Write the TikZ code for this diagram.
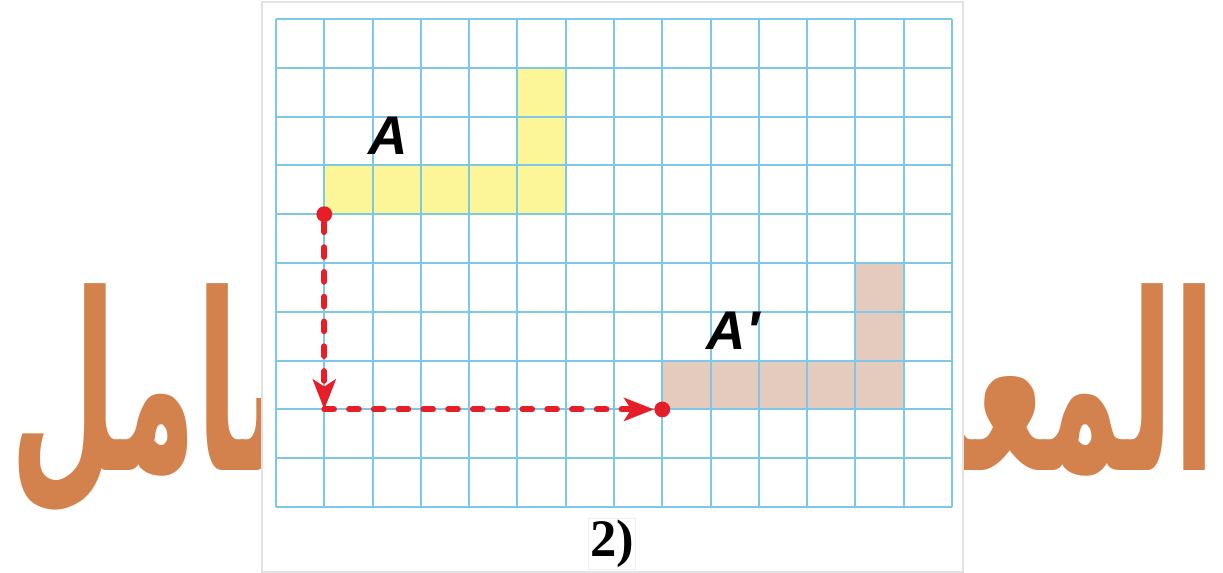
\documentclass[tikz,border=0pt]{standalone}
\usepackage{fontspec}
\usetikzlibrary{arrows.meta}
\TeXXeTstate=1
\newfontfamily\arabicfont[Script=Arabic]{DejaVu Sans}
\newfontfamily\labfont{Liberation Sans}
\newfontfamily\numfont{Liberation Serif}
\definecolor{gridblue}{RGB}{125,200,228}
\definecolor{shapeyellow}{RGB}{253,246,152}
\definecolor{shapebrown}{RGB}{229,203,189}
\definecolor{arrowred}{RGB}{230,30,40}
\definecolor{wmorange}{RGB}{212,130,77}
\definecolor{panelgray}{RGB}{226,226,230}
\begin{document}
\begin{tikzpicture}[x=0.02cm,y=-0.02cm,
  gridline/.style={draw=gridblue,line width=1.1pt},
  cellA/.style={fill=shapeyellow},
  cellB/.style={fill=shapebrown},
  dot/.style={circle,fill=arrowred,inner sep=0pt,minimum size=9pt},
  move/.style={draw=arrowred,line width=3.4pt,line cap=round,dash pattern=on 5.5pt off 8.6pt,
    -{Stealth[length=17pt,width=13pt,inset=4pt]}},
  lab/.style={font=\labfont\bfseries\itshape\fontsize{31}{31}\selectfont,text=black},
  num/.style={font=\numfont\bfseries\fontsize{30}{30}\selectfont,text=black},
  wm/.style={font=\arabicfont\bfseries\fontsize{140}{140}\selectfont,text=wmorange,inner sep=0pt,xscale=0.5}]
\useasboundingbox (0,0) rectangle (1223,572);
% watermark
\node[wm,anchor=base east] (wmr) at (1216,470) {\beginR المعلم\endR};
\node[wm,anchor=base west] (wml) at (10,470) {\beginR الشامل\endR};
% panel
\draw[draw=panelgray,fill=white,line width=0.6pt] (262,2) rectangle (963,572);
% cells
\pgfmathsetmacro{\cw}{48.286}
\pgfmathsetmacro{\ch}{48.8}
\path[cellA] (276+1*\cw,19+3*\ch) rectangle (276+6*\cw,19+4*\ch);
\path[cellA] (276+5*\cw,19+1*\ch) rectangle (276+6*\cw,19+3*\ch);
\path[cellB] (276+8*\cw,19+7*\ch) rectangle (276+13*\cw,19+8*\ch);
\path[cellB] (276+12*\cw,19+5*\ch) rectangle (276+13*\cw,19+7*\ch);
% grid
\foreach \i in {0,...,14} {\draw[gridline] (276+\i*\cw,19) -- (276+\i*\cw,507);}
\foreach \j in {0,...,10} {\draw[gridline] (276,19+\j*\ch) -- (952,19+\j*\ch);}
% labels
\node[lab] (la) at (388,136) {A};
\node[lab] (lb) at (733,331) {A′};
% translation arrows
\node[dot] (p) at (276+1*\cw,19+4*\ch) {};
\coordinate (q) at (276+1*\cw,19+8*\ch);
\node[dot] (r) at (276+8*\cw,19+8*\ch) {};
\draw[move] (p) -- (q);
\draw[move] (q) -- (r);
% caption
\node[num,draw=panelgray!60,line width=0.4pt,inner sep=1pt] (cap) at (612,544) {2)};
\end{tikzpicture}
\end{document}
